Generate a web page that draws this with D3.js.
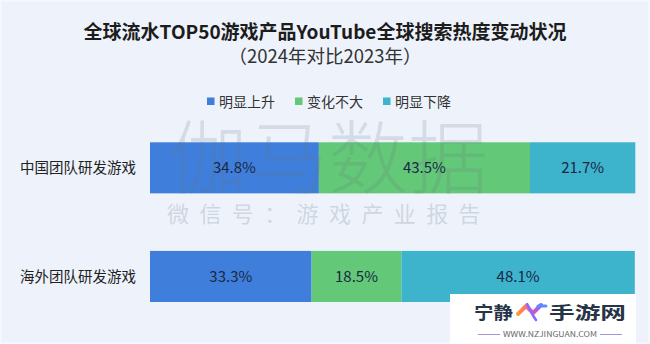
<!DOCTYPE html>
<html>
<head>
<meta charset="utf-8">
<script src="https://cdn.jsdelivr.net/npm/d3@7"></script>
<style>
  html, body { margin: 0; padding: 0; background: #edf2fb; }
  svg { display: block; }
  text { font-family: "Noto Sans CJK SC", "Noto Sans", sans-serif; }
</style>
</head>
<body>
<svg id="chart" width="650" height="344"></svg>
<script>
// Row categories (teams) and the three change buckets
const categories = ["中国团队研发游戏", "海外团队研发游戏"];
const seriesNames = ["明显上升", "变化不大", "明显下降"];
const riseValues   = [34.8, 33.3];
const stableValues = [43.5, 18.5];
const fallValues   = [21.7, 48.1];
const seriesColors = ["#3f7fdb", "#63c878", "#3db3cc"];

const titleText = "全球流水TOP50游戏产品YouTube全球搜索热度变动状况";
const subtitleText = "（2024年对比2023年）";

const W = 650, H = 344;
const svg = d3.select("#chart");

// background panel
svg.append("rect").attr("x", 0).attr("y", 0).attr("width", W).attr("height", H)
  .attr("fill", "#edf2fb");
svg.append("rect").attr("x", 0.75).attr("y", 0.75).attr("width", W - 1.5).attr("height", H - 1.5)
  .attr("fill", "none").attr("stroke", "#f6f9fe").attr("stroke-width", 1.5);

// titles
svg.append("text").attr("x", 325).attr("y", 39).attr("text-anchor", "middle")
  .attr("font-size", 19).attr("font-weight", 700).attr("fill", "#1c1c1c").text(titleText);
svg.append("text").attr("x", 325).attr("y", 62.5).attr("text-anchor", "middle")
  .attr("font-size", 18.5).attr("fill", "#333").text(subtitleText);

// legend
const legendX = [207, 295, 383];
const legend = svg.append("g");
seriesNames.forEach((name, i) => {
  legend.append("rect").attr("x", legendX[i]).attr("y", 97.5).attr("width", 7.5).attr("height", 7.5)
    .attr("fill", seriesColors[i]);
  legend.append("text").attr("x", legendX[i] + 12).attr("y", 106.5)
    .attr("font-size", 14).attr("fill", "#333").text(name);
});

// stacked data
const rows = categories.map((c, i) => ({
  category: c,
  [seriesNames[0]]: riseValues[i],
  [seriesNames[1]]: stableValues[i],
  [seriesNames[2]]: fallValues[i]
}));
const stacked = d3.stack().keys(seriesNames)(rows);

const x = d3.scaleLinear().domain([0, 100]).range([150, 635.3]);
const y = d3.scaleBand().domain(categories).range([142.3, 302]).paddingInner(0.53).paddingOuter(0);

const marks = svg.append("g");
stacked.forEach((layer, si) => {
  marks.selectAll(null).data(layer).enter().append("rect")
    .attr("x", d => x(d[0]))
    .attr("y", d => y(d.data.category))
    .attr("width", d => x(d[1]) - x(d[0]))
    .attr("height", y.bandwidth())
    .attr("fill", seriesColors[si]);
});

// publisher watermark laid over the bars
const wm = svg.append("g").attr("pointer-events", "none");
wm.append("text").attr("x", 168).attr("y", 187)
  .attr("font-size", 80).attr("font-weight", 300).attr("fill", "#6b7480").attr("fill-opacity", 0.18)
  .text("伽马数据");
wm.append("text").attr("x", 167).attr("y", 222)
  .attr("font-size", 22).attr("letter-spacing", 10.4).attr("fill", "#9aa2ad").attr("fill-opacity", 0.36)
  .text("微信号：游戏产业报告");

// value labels
stacked.forEach((layer, si) => {
  svg.selectAll(null).data(layer).enter().append("text")
    .attr("x", d => (x(d[0]) + x(d[1])) / 2)
    .attr("y", d => y(d.data.category) + y.bandwidth() / 2 + 5.5)
    .attr("text-anchor", "middle")
    .attr("font-size", 15).attr("fill", "#1b2747")
    .text(d => (d[1] - d[0]).toFixed(1) + "%");
});

// category axis
const yAxis = svg.append("g").attr("transform", "translate(136,0)")
  .call(d3.axisLeft(y).tickSize(0).tickPadding(0));
yAxis.select(".domain").remove();
yAxis.selectAll("text").attr("font-size", 14.5).attr("fill", "#222")
  .attr("font-family", "'Noto Sans CJK SC', sans-serif").attr("dy", "0.36em");

// site badge, bottom right
const badge = svg.append("g");
badge.append("rect").attr("x", 450).attr("y", 294).attr("width", 186).attr("height", 50).attr("fill", "#ffffff");
badge.append("text").attr("x", 474).attr("y", 318.5).attr("font-size", 17.5).attr("font-weight", 700)
  .attr("textLength", 39).attr("lengthAdjust", "spacingAndGlyphs")
  .attr("fill", "#263446").text("宁静");
badge.append("text").attr("x", 549).attr("y", 318.5).attr("font-size", 17.5).attr("font-weight", 700)
  .attr("textLength", 77).attr("lengthAdjust", "spacingAndGlyphs")
  .attr("fill", "#263446").text("手游网");
const defs = svg.append("defs");
const grad = defs.append("linearGradient").attr("id", "badgeGrad")
  .attr("x1", "0").attr("y1", "0").attr("x2", "1").attr("y2", "0");
grad.append("stop").attr("offset", "0").attr("stop-color", "#ff9a3c");
grad.append("stop").attr("offset", "0.5").attr("stop-color", "#ff5d8c");
grad.append("stop").attr("offset", "1").attr("stop-color", "#8a5cff");
badge.append("path")
  .attr("d", "M518,314 L526,306 L533,313 L541,305")
  .attr("fill", "none").attr("stroke", "url(#badgeGrad)").attr("stroke-width", 4).attr("stroke-linejoin", "round").attr("stroke-linecap", "round");
badge.append("path")
  .attr("d", "M527,304 C530,309 532,315 536,320")
  .attr("fill", "none").attr("stroke", "#8a6bff").attr("stroke-width", 2.6).attr("stroke-linecap", "round");
badge.append("path")
  .attr("d", "M538,306 L546,306")
  .attr("fill", "none").attr("stroke", "#5c8dff").attr("stroke-width", 3).attr("stroke-linecap", "round");
badge.append("line").attr("x1", 478).attr("x2", 500).attr("y1", 334.5).attr("y2", 334.5)
  .attr("stroke", "#8f78c8").attr("stroke-width", 0.8);
badge.append("line").attr("x1", 600).attr("x2", 622).attr("y1", 334.5).attr("y2", 334.5)
  .attr("stroke", "#8f78c8").attr("stroke-width", 0.8);
badge.append("text").attr("x", 503).attr("y", 337)
  .attr("font-size", 7.5).attr("font-family", "'Liberation Sans', sans-serif").attr("fill", "#666")
  .attr("textLength", 94).attr("lengthAdjust", "spacingAndGlyphs")
  .text("WWW.NZJINGUAN.COM");
</script>
</body>
</html>
